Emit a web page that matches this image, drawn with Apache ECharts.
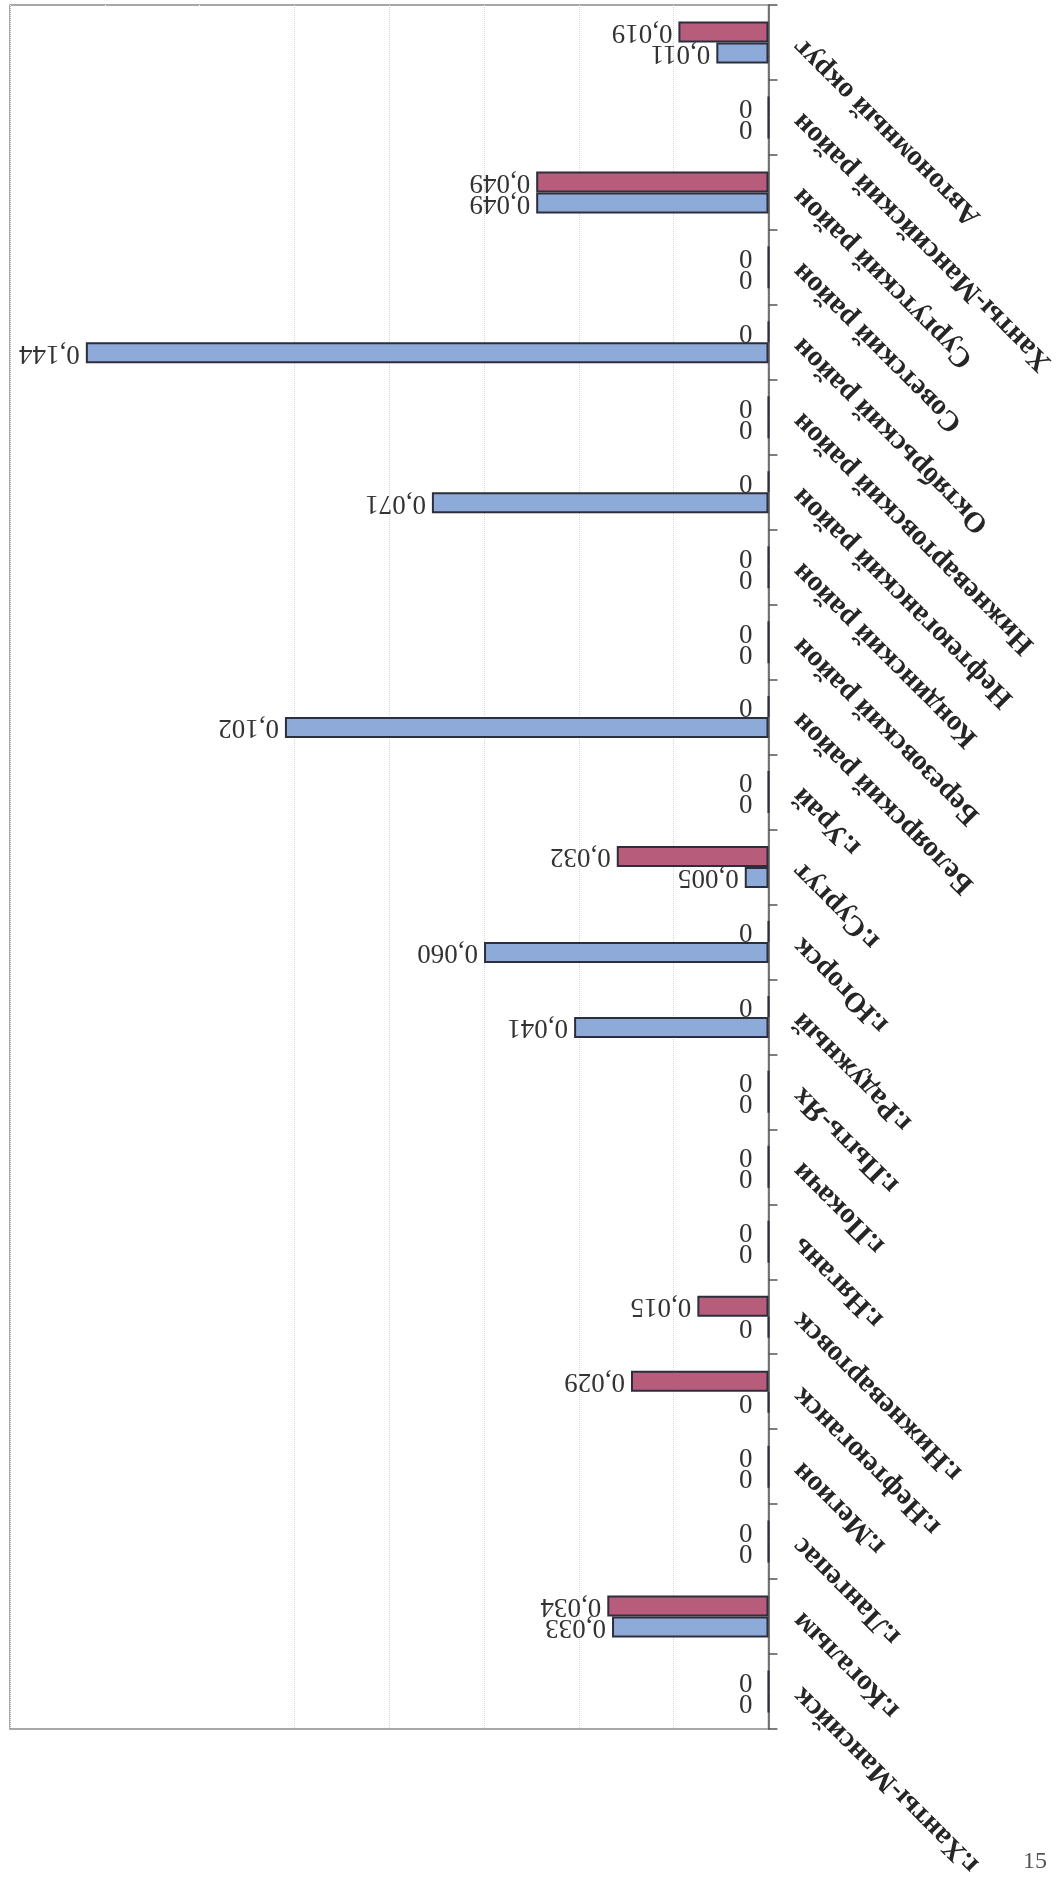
<!DOCTYPE html>
<html>
<head>
<meta charset="utf-8">
<title>chart</title>
<script src="https://cdn.jsdelivr.net/npm/echarts@6/dist/echarts.min.js"></script>
<style>
    html, body {margin: 0; padding: 0; background: #fff;}
    #main {width: 1059px; height: 1887px;}
</style>
</head>
<body>
<div id="main"></div>
<script>
// категории сверху вниз (как на картинке)
var categories = ['Автономный округ', 'Ханты-Мансийский район', 'Сургутский район', 'Советский район',
    'Октябрьский район', 'Нижневартовский район', 'Нефтеюганский район', 'Кондинский район',
    'Березовский район', 'Белоярский район', 'г.Урай', 'г.Сургут', 'г.Югорск', 'г.Радужный',
    'г.Пыть-Ях', 'г.Покачи', 'г.Нягань', 'г.Нижневартовск', 'г.Нефтеюганск', 'г.Мегион',
    'г.Лангепас', 'г.Когалым', 'г.Ханты-Мансийск'];
var blueVals = [0.011, 0, 0.049, 0, 0.144, 0, 0.071, 0, 0, 0.102, 0, 0.005, 0.060, 0.041,
    0, 0, 0, 0, 0, 0, 0, 0.033, 0];
var redVals = [0.019, 0, 0.049, 0, 0, 0, 0, 0, 0, 0, 0, 0.032, 0, 0,
    0, 0, 0, 0.015, 0.029, 0, 0, 0.034, 0];
var axisMax = 0.16;
var axisStep = 0.02;
var pageNum = '15';

function fmtVal(v) {
    if (v === 0) return '0';
    return v.toFixed(3).replace('.', ',');
}

// у нулевых подписей отступ больше
function buildData(arr) {
    var res = [];
    for (var i = 0; i < arr.length; i++) {
        res.push({value: arr[i], label: {distance: arr[i] === 0 ? 15 : 6}});
    }
    return res;
}

function barSeries(name, arr, color) {
    return {
        name: name,
        type: 'bar',
        data: buildData(arr),
        barWidth: 21,
        barGap: '0%',
        itemStyle: {color: color, borderColor: '#2c2f3b', borderWidth: 2},
        label: {
            show: true,
            position: 'left',
            rotate: 180,
            align: 'left',
            verticalAlign: 'middle',
            fontFamily: 'Liberation Serif',
            fontSize: 27,
            color: '#333',
            formatter: function (p) { return fmtVal(p.value); }
        }
    };
}

var chart = echarts.init(document.getElementById('main'));
chart.setOption({
    backgroundColor: '#fff',
    animation: false,
    grid: {
        left: 10, right: 290, top: 5, bottom: 158,
        show: true, borderColor: '#8c8c8c', borderWidth: 1.5
    },
    xAxis: {
        type: 'value',
        min: 0, max: axisMax, interval: axisStep,
        inverse: true,
        axisLabel: {show: false},
        axisLine: {show: false},
        axisTick: {show: false},
        splitLine: {
            show: true,
            lineStyle: {type: 'dotted', width: 1,
                color: ['#ffffff', '#d6d6d6', '#d6d6d6', '#d6d6d6', '#d6d6d6', '#d6d6d6', '#ffffff', '#ffffff', '#ffffff']}
        }
    },
    yAxis: {
        type: 'category',
        position: 'right',
        inverse: true,
        data: categories,
        axisLine: {show: true, lineStyle: {color: '#555', width: 1.5}},
        axisTick: {show: true, length: 9, lineStyle: {color: '#555', width: 1.5}},
        axisLabel: {
            interval: 0,
            rotate: 135,
            align: 'right',
            verticalAlign: 'middle',
            margin: 29,
            fontFamily: 'Liberation Serif',
            fontWeight: 'bold',
            fontSize: 29,
            color: '#262626'
        }
    },
    series: [
        barSeries('Ряд 2', redVals, '#b85c7b'),
        barSeries('Ряд 1', blueVals, '#8eaad8')
    ],
    graphic: [{
        type: 'text',
        left: 1023, top: 1850,
        style: {text: pageNum, fontFamily: 'Liberation Serif', fontSize: 24, fill: '#555'}
    }]
});
</script>
</body>
</html>
